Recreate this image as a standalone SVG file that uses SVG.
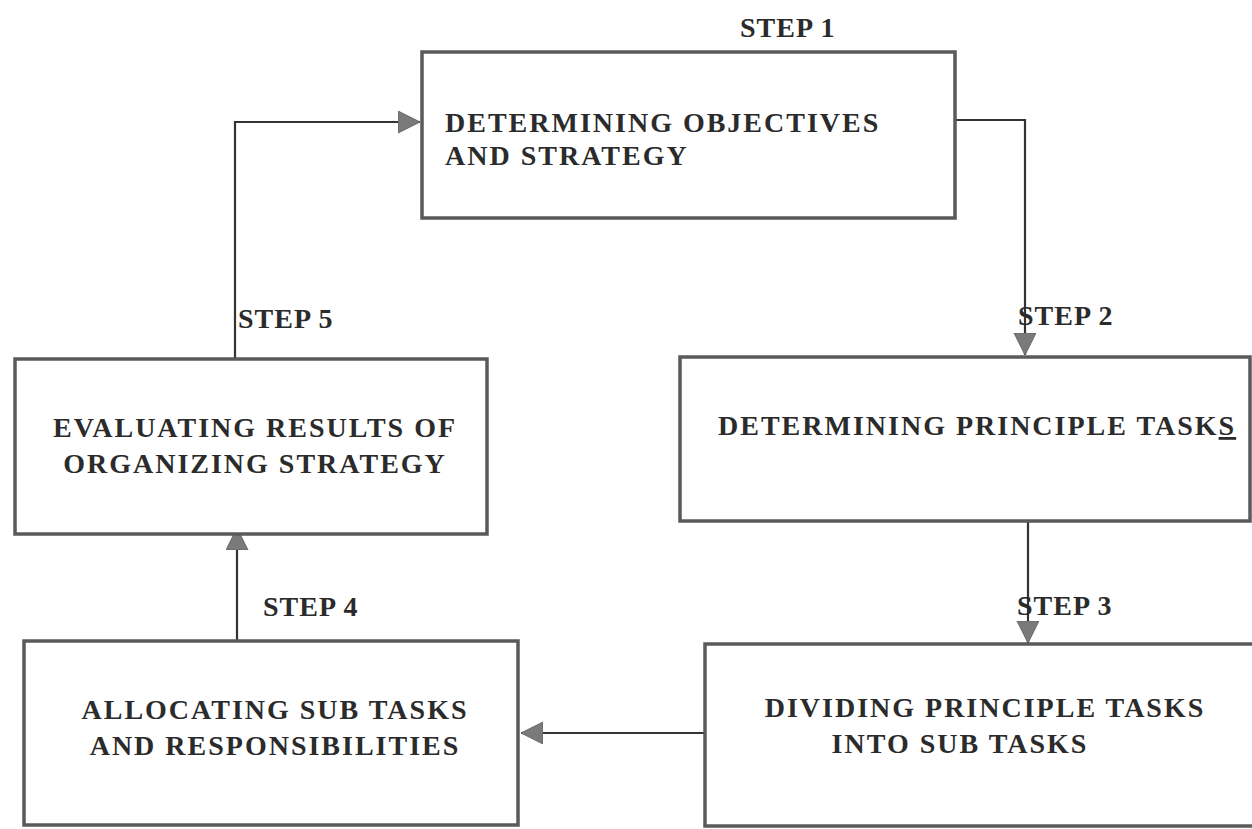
<svg xmlns="http://www.w3.org/2000/svg" width="1252" height="829" viewBox="0 0 1252 829">
<defs>
<style>
.box{fill:#fff;stroke:#5a5a5a;stroke-width:3.5}
.t{font-family:"Liberation Serif","Times New Roman",serif;font-weight:bold;font-size:28px;fill:#2b2b2b;letter-spacing:2px}
.s{font-family:"Liberation Serif","Times New Roman",serif;font-weight:bold;font-size:28px;fill:#2b2b2b;letter-spacing:1px}
.c{fill:none;stroke:#333;stroke-width:2.2}
</style>
<marker id="ah" markerUnits="userSpaceOnUse" markerWidth="24" markerHeight="24" refX="22" refY="11" orient="auto" viewBox="0 0 24 24">
<path d="M0,0 L22,11 L0,22 z" fill="#7a7a7a" stroke="#666" stroke-width="1"/>
</marker>
</defs>
<rect width="1252" height="829" fill="#fff"/>
<g id="connectors">
<polyline class="c" points="955,120 1025,120 1025,355" marker-end="url(#ah)"/>
<line class="c" x1="1028" y1="521" x2="1028" y2="643" marker-end="url(#ah)"/>
<line class="c" x1="705" y1="733" x2="521" y2="733" marker-end="url(#ah)"/>
<line class="c" x1="237" y1="641" x2="237" y2="528" marker-end="url(#ah)"/>
<polyline class="c" points="235,359 235,122 420,122" marker-end="url(#ah)"/>
</g>
<g id="step1">
<rect class="box" x="422" y="52" width="533" height="166"/>
<text class="t" x="445" y="132">DETERMINING OBJECTIVES</text>
<text class="t" x="445" y="165">AND STRATEGY</text>
<text class="s" x="740" y="37">STEP 1</text>
</g>
<g id="step2">
<rect class="box" x="680" y="357" width="570" height="164"/>
<text class="t" x="718" y="435">DETERMINING PRINCIPLE TASK<tspan text-decoration="underline">S</tspan></text>
<text class="s" x="1018" y="325">STEP 2</text>
</g>
<g id="step3">
<rect class="box" x="705" y="644" width="560" height="182"/>
<text class="t" x="985" y="717" text-anchor="middle">DIVIDING PRINCIPLE TASKS</text>
<text class="t" x="960" y="753" text-anchor="middle">INTO SUB TASKS</text>
<text class="s" x="1017" y="615">STEP 3</text>
</g>
<g id="step4">
<rect class="box" x="24" y="641" width="494" height="184"/>
<text class="t" x="275" y="719" text-anchor="middle">ALLOCATING SUB TASKS</text>
<text class="t" x="275" y="755" text-anchor="middle">AND RESPONSIBILITIES</text>
<text class="s" x="263" y="616">STEP 4</text>
</g>
<g id="step5">
<rect class="box" x="15" y="359" width="472" height="175"/>
<text class="t" x="255" y="437" text-anchor="middle">EVALUATING RESULTS OF</text>
<text class="t" x="255" y="473" text-anchor="middle">ORGANIZING STRATEGY</text>
<text class="s" x="238" y="328">STEP 5</text>
</g>
</svg>
